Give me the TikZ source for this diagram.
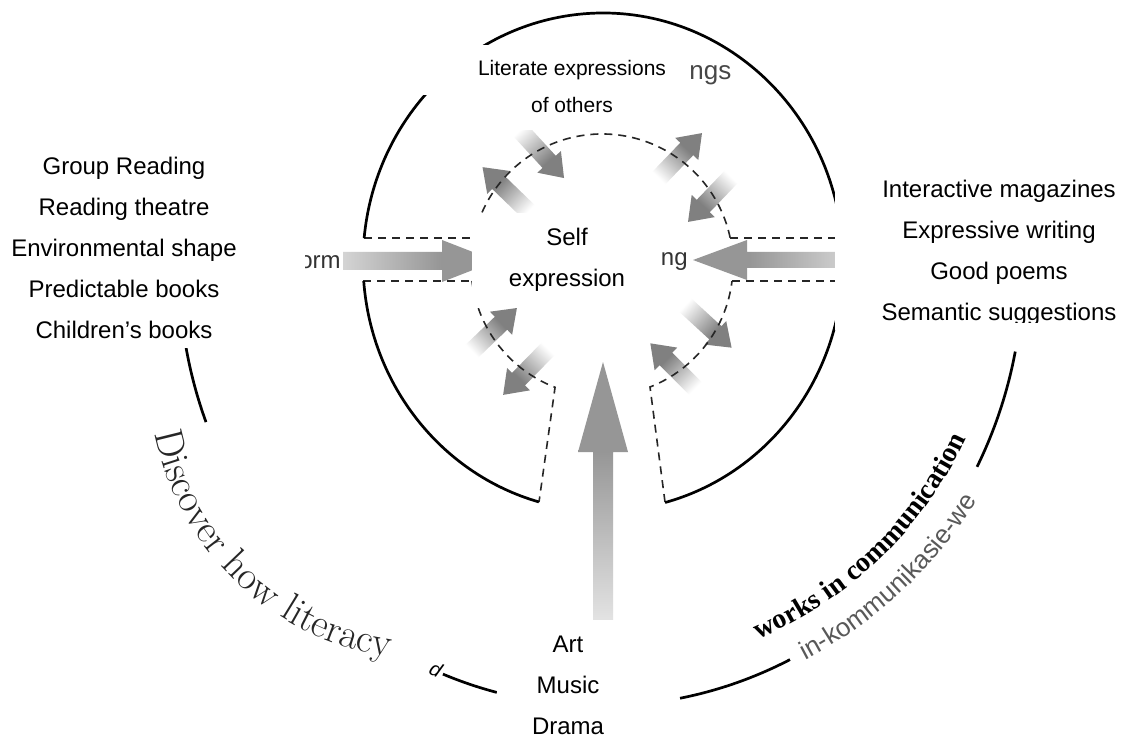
\documentclass[tikz,border=0pt]{standalone}
\usepackage{fontspec}
\newfontfamily\arial{Liberation Sans}
\newfontfamily\tnr{Liberation Serif}
\usetikzlibrary{decorations.text}
\definecolor{headgray}{RGB}{128,128,128}
\definecolor{biglight}{RGB}{212,212,212}
\definecolor{bighead}{RGB}{150,150,150}
\definecolor{vlight}{RGB}{236,236,236}
\pgfdeclarehorizontalshading{smallfade}{100bp}{color(0bp)=(white); color(27bp)=(white); color(58bp)=(headgray); color(100bp)=(headgray)}
\pgfdeclarehorizontalshading{bigfade}{100bp}{color(0bp)=(biglight); color(25bp)=(biglight); color(57bp)=(bighead); color(100bp)=(bighead)}
\pgfdeclarehorizontalshading{vfade}{100bp}{color(0bp)=(vlight); color(25bp)=(vlight); color(59bp)=(bighead); color(100bp)=(bighead)}
\newcommand{\fadearrow}[4]{%
  \begin{scope}[transform canvas={shift={(#1,#2)},rotate=#3}]
    \shade[shading=smallfade] (0,-9) -- ({#4-22},-9) -- ({#4-22},-16) -- (#4,0) -- ({#4-22},16) -- ({#4-22},9) -- (0,9) -- cycle;
  \end{scope}}
\tikzset{
  solidarc/.style={line width=1.35pt, black},
  dashline/.style={line width=0.8pt, dash pattern=on 4pt off 3pt, black!85},
  cover/.style={fill=white, draw=none},
  lbl/.style={font=\arial\fontsize{12}{20.5}\selectfont, align=center, text=black, inner sep=0pt},
  toplbl/.style={font=\arial\fontsize{10.5}{18.5}\selectfont, align=center, text=black, inner sep=0pt},
  frag/.style={font=\arial\fontsize{12}{14}\selectfont, text=black!80, inner sep=0pt}
}
\begin{document}
\begin{tikzpicture}[x=0.5pt,y=0.5pt]
\path[use as bounding box, fill=white] (0,0) rectangle (1122,-737);

% big gradient arrows
\shade[shading=bigfade] (343,-252) -- (442,-252) -- (442,-240) -- (496,-261) -- (442,-282) -- (442,-270) -- (343,-270) -- cycle;
\shade[shading=bigfade, shading angle=180] (850,-252) -- (747,-252) -- (747,-240) -- (693,-260) -- (747,-280) -- (747,-268) -- (850,-268) -- cycle;
\shade[shading=vfade, shading angle=90] (593,-640) -- (593,-452) -- (578,-452) -- (603,-362) -- (628,-452) -- (613,-452) -- (613,-640) -- cycle;

% small gradient arrows around the dashed circle
\fadearrow{518}{-128}{-47.4}{68}
\fadearrow{530}{-213}{136}{66}
\fadearrow{657}{-180}{46.2}{65}
\fadearrow{733}{-175}{226.2}{65}
\fadearrow{683}{-303}{-42.6}{66}
\fadearrow{697}{-390}{135}{66}
\fadearrow{470}{-353}{43.8}{65}
\fadearrow{550}{-347}{225.6}{67}

% dashed inner boundary
\draw[dashline] (602,-265) ++(12:131) arc[start angle=12, end angle=168, radius=131];
\draw[dashline] (602,-265) ++(187:131) arc[start angle=187, end angle=249, radius=131] -- (539,-502);
\draw[dashline] (665,-502) -- (650,-387) arc[start angle=291.5, end angle=353, radius=131];
\draw[dashline] (364,-238) -- (474,-238);
\draw[dashline] (363,-281) -- (472,-281);
\draw[dashline] (730,-238) -- (850,-238);
\draw[dashline] (732,-281) -- (850,-281);

% inner solid ring
\draw[solidarc] (603,-262) ++(5.5:240 and 249) arc[start angle=5.5, end angle=174.5, x radius=240, y radius=249];
\draw[solidarc] (603,-262) ++(184.4:240 and 249) arc[start angle=184.4, end angle=254.5, x radius=240, y radius=249];
\draw[solidarc] (603,-262) ++(285:240 and 249) arc[start angle=285, end angle=355.6, x radius=240, y radius=249];

% outer ring pieces
\draw[solidarc] (601,-268) ++(190.5:422 and 438) arc[start angle=190.5, end angle=200.6, x radius=422, y radius=438];
\draw[solidarc] (601,-268) ++(248:422 and 438) arc[start angle=248, end angle=255.7, x radius=422, y radius=438];
\draw[solidarc] (601,-268) ++(280.8:422 and 438) arc[start angle=280.8, end angle=296.6, x radius=422, y radius=438];
\draw[solidarc] (601,-268) ++(333:422 and 438) arc[start angle=333, end angle=349, x radius=422, y radius=438];

% fragments of older labels
\node[frag, anchor=base east] (orm) at (341,-269) {orm};
\node[frag, anchor=base east] (ngfrag) at (688,-266) {ng};
\node[frag, anchor=base west, text=black!72, font=\arial\fontsize{13}{15}\selectfont] (ngs) at (689,-80) {ngs};
\node[font=\arial\itshape\fontsize{10}{12}\selectfont, rotate=-25, inner sep=0pt] (dfrag) at (436,-669) {d};

% white cover boxes
\fill[cover] (415,-45) rectangle (680,-95);
\fill[cover] (480,-95) rectangle (705,-130);
\fill[cover] (472,-213) rectangle (662,-308);
\fill[cover] (0,-130) rectangle (305,-348);
\fill[cover] (835,-150) rectangle (1122,-330);
\fill[cover] (497,-620) rectangle (642,-737);

% labels
\node[toplbl] (others) at (572,-86) {Literate expressions\\of others};
\node[lbl] (self) at (567,-260) {Self\\expression};
\node[lbl] (leftlist) at (124,-248) {Group Reading\\Reading theatre\\Environmental shape\\Predictable books\\Children’s books};
\node[lbl] (rightlist) at (999,-253) {Interactive magazines\\Expressive writing\\Good poems\\Semantic suggestions};
\node[lbl] (arts) at (568,-685) {Art\\Music\\Drama};
\fill[cover] (870,-323) rectangle (1122,-349);

% curved texts
\path[decorate, decoration={text along path, text align=left, text color=black!85,
  text={|\fontsize{20}{22}\selectfont|Discover how literacy}}]
  (430,-380) ++(191:280) arc[start angle=191, end angle=272, radius=280];
\path[decorate, decoration={text along path, text align=left, text color=black,
  text={|\tnr\bfseries\fontsize{14}{16}\selectfont|works in communication}}]
  (601,-268) ++(293:403) arc[start angle=293, end angle=345, radius=403];
\path[decorate, decoration={text along path, text align=left, text color=black!65,
  text={|\arial\fontsize{13}{15}\selectfont|in-kommunikasie-we}}]
  (601,-268) ++(297.5:442) arc[start angle=297.5, end angle=345, radius=442];
\end{tikzpicture}
\end{document}
